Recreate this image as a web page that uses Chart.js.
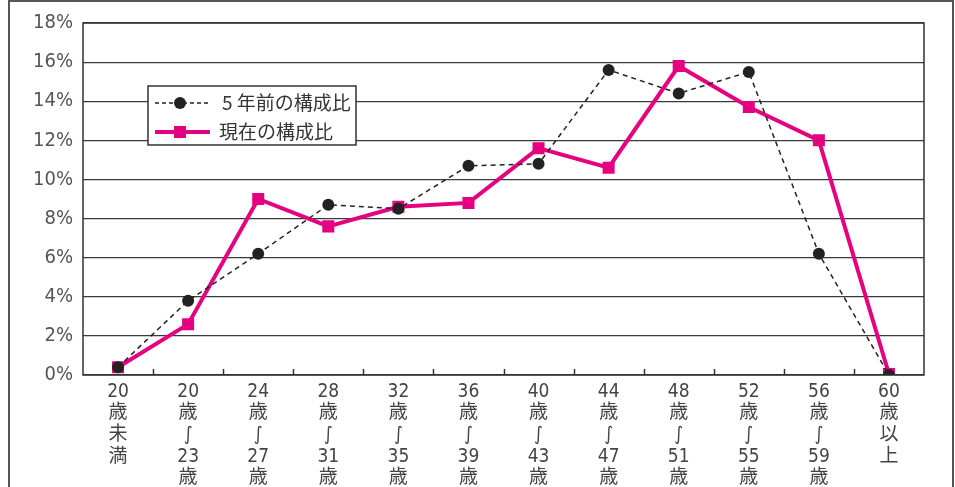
<!DOCTYPE html>
<html>
<head>
<meta charset="utf-8">
<script src="https://cdn.jsdelivr.net/npm/chart.js@4.4.1/dist/chart.umd.min.js"></script>
<style>
  html, body { margin: 0; padding: 0; background: #fff; overflow: hidden; }
  #wrap { position: relative; width: 955px; height: 487px; }
  #frame { position: absolute; left: 8px; top: 0px; width: 946px; height: 500px; border: 2px solid #555; box-sizing: border-box; pointer-events: none; }
  canvas { position: absolute; left: 0; top: 0; }
</style>
</head>
<body>
<div id="wrap">
  <canvas id="chart" width="955" height="487"></canvas>
  <div id="frame"></div>
</div>
<script>
// age bands, written top to bottom
const categories = [
  ['20', '歳', '未', '満'],
  ['20', '歳', '∫', '23', '歳'],
  ['24', '歳', '∫', '27', '歳'],
  ['28', '歳', '∫', '31', '歳'],
  ['32', '歳', '∫', '35', '歳'],
  ['36', '歳', '∫', '39', '歳'],
  ['40', '歳', '∫', '43', '歳'],
  ['44', '歳', '∫', '47', '歳'],
  ['48', '歳', '∫', '51', '歳'],
  ['52', '歳', '∫', '55', '歳'],
  ['56', '歳', '∫', '59', '歳'],
  ['60', '歳', '以', '上']
];
const fiveYearsAgo = [0.4, 3.8, 6.2, 8.7, 8.5, 10.7, 10.8, 15.6, 14.4, 15.5, 6.2, 0.0];
const current = [0.4, 2.6, 9.0, 7.6, 8.6, 8.8, 11.6, 10.6, 15.8, 13.7, 12.0, 0.05];
const seriesNames = ['5 年前の構成比', '現在の構成比'];

const PINK = '#E5007F';
const INK = '#222';

// plot frame, bottom ticks pointing up, and the boxed legend
const decorations = {
  id: 'decorations',
  afterDraw(chart) {
    const { ctx, chartArea: a, scales: { x } } = chart;
    ctx.save();
    ctx.strokeStyle = '#333';
    ctx.lineWidth = 1.5;
    ctx.strokeRect(a.left, a.top, a.right - a.left, a.bottom - a.top);
    ctx.beginPath();
    for (let i = 1; i < categories.length; i++) {
      const px = Math.round((x.getPixelForValue(i - 1) + x.getPixelForValue(i)) / 2) + 0.5;
      ctx.moveTo(px, a.bottom);
      ctx.lineTo(px, a.bottom - 6);
    }
    ctx.stroke();

    // legend box
    const bx = 148, by = 86, bw = 208, bh = 59;
    ctx.fillStyle = '#fff';
    ctx.fillRect(bx, by, bw, bh);
    ctx.strokeStyle = '#333';
    ctx.lineWidth = 1.5;
    ctx.strokeRect(bx, by, bw, bh);

    const y1 = by + 17, y2 = by + 46;
    ctx.strokeStyle = INK;
    ctx.lineWidth = 1.5;
    ctx.setLineDash([4, 3]);
    ctx.beginPath();
    ctx.moveTo(bx + 7, y1);
    ctx.lineTo(bx + 62, y1);
    ctx.stroke();
    ctx.setLineDash([]);
    ctx.fillStyle = INK;
    ctx.beginPath();
    ctx.arc(bx + 32, y1, 6, 0, Math.PI * 2);
    ctx.fill();

    ctx.strokeStyle = PINK;
    ctx.lineWidth = 4;
    ctx.beginPath();
    ctx.moveTo(bx + 7, y2);
    ctx.lineTo(bx + 62, y2);
    ctx.stroke();
    ctx.fillStyle = PINK;
    ctx.fillRect(bx + 26, y2 - 6, 12, 12);

    ctx.fillStyle = '#333';
    ctx.font = '19px "Noto Sans CJK JP", sans-serif';
    ctx.textBaseline = 'middle';
    ctx.fillText(seriesNames[0], bx + 74, y1);
    ctx.fillText(seriesNames[1], bx + 71, y2);
    ctx.restore();
  }
};

new Chart(document.getElementById('chart'), {
  type: 'line',
  data: {
    labels: categories,
    datasets: [
      {
        label: seriesNames[0],
        data: fiveYearsAgo,
        borderColor: INK,
        backgroundColor: INK,
        borderWidth: 1.5,
        borderDash: [5, 4],
        pointStyle: 'circle',
        pointRadius: 6,
        pointBorderWidth: 0,
        tension: 0
      },
      {
        label: seriesNames[1],
        data: current,
        borderColor: PINK,
        backgroundColor: PINK,
        borderWidth: 4,
        pointStyle: 'rect',
        pointRadius: 8.5,
        pointBorderWidth: 0,
        tension: 0
      }
    ]
  },
  options: {
    responsive: false,
    animation: false,
    layout: { padding: { top: 23, right: 31, left: 0, bottom: 0 } },
    plugins: { legend: { display: false }, tooltip: { enabled: false } },
    scales: {
      x: {
        offset: true,
        afterFit: (s) => { s.height = 112; },
        grid: { display: false, drawTicks: false },
        border: { display: false },
        ticks: {
          autoSkip: false,
          maxRotation: 0,
          padding: 6,
          color: '#444',
          font: { family: '"DejaVu Sans", "Noto Sans CJK JP", sans-serif', weight: 'normal condensed', size: 19, lineHeight: 1.14 }
        }
      },
      y: {
        min: 0,
        max: 18,
        afterFit: (s) => { s.width = 83; },
        grid: { color: '#3a3a3a', lineWidth: 1.2, drawTicks: false },
        border: { display: false },
        ticks: {
          stepSize: 2,
          padding: 10,
          color: '#555',
          font: { family: '"DejaVu Sans", sans-serif', weight: 'normal condensed', size: 20 },
          callback: (v) => v + '%'
        }
      }
    }
  },
  plugins: [decorations]
});
</script>
</body>
</html>
